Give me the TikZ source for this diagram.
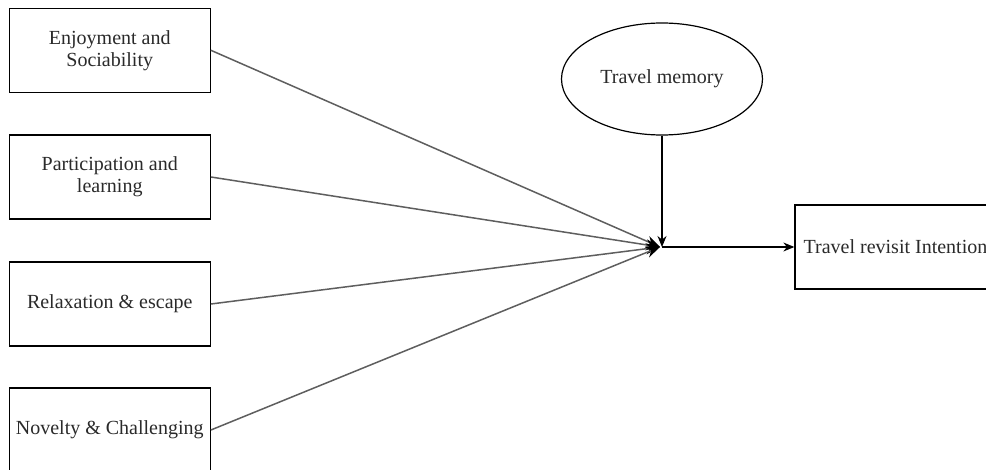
\documentclass[tikz,border=0pt]{standalone}
\usepackage{fontspec}
\setmainfont{Liberation Serif}
\usetikzlibrary{shapes.geometric,arrows.meta}
\definecolor{linegray}{HTML}{5E5E5E}
\definecolor{txt}{HTML}{2A2A2A}
\tikzset{
  factor/.style={draw=black, line width=0.65pt, rectangle, minimum width=100.5pt, minimum height=42pt, inner sep=0pt, align=center, text=txt, font=\fontsize{10}{11}\selectfont},
  memo/.style={draw=black, line width=0.6pt, ellipse, minimum width=100.5pt, minimum height=56pt, inner sep=0pt, align=center, text=txt, font=\fontsize{10}{11}\selectfont},
  feed/.style={draw=linegray, line width=0.75pt, -{Stealth[length=7pt,width=5.5pt,color=black,fill=black]}},
  main/.style={draw=black, line width=0.6pt, -{Stealth[length=5.5pt,width=4.5pt]}}
}
\begin{document}
\begin{tikzpicture}[x=0.5pt,y=-0.5pt]
\clip (0,0) rectangle (986,470);
\fill[white] (0,0) rectangle (986,470);
\node[factor] (b1) at (109.75,50.3) {Enjoyment and\\Sociability};
\node[factor] (b2) at (109.75,177) {Participation and\\learning};
\node[factor] (b3) at (109.75,304) {Relaxation \& escape};
\node[factor] (b4) at (109.75,430) {Novelty \& Challenging};
\node[memo] (mem) at (662,79) {Travel memory};
\node[factor] (rev) at (895.5,247) {Travel revisit Intention};
\coordinate (J) at (660,247);
\coordinate (K) at (662,247);
\draw[feed] (b1.east) -- (J);
\draw[feed] (b2.east) -- (J);
\draw[feed] (b3.east) -- (J);
\draw[feed] (b4.east) -- (J);
\draw[main] (mem.south) -- (K);
\draw[main] (K) -- (rev.west);
\end{tikzpicture}
\end{document}
